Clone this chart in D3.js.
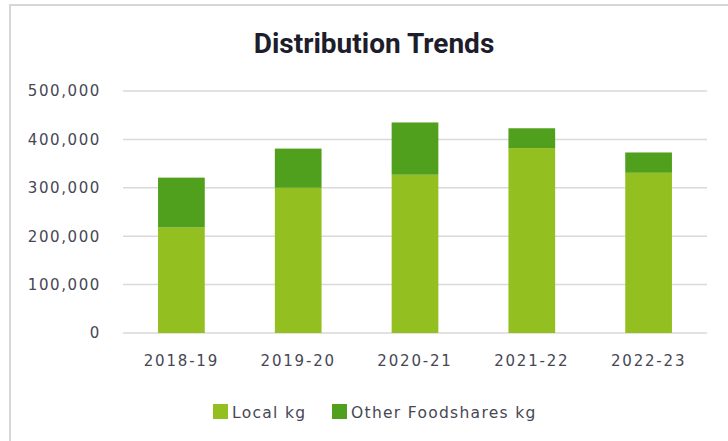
<html>
<head>
<meta charset="utf-8">
<title>Distribution Trends</title>
<script src="https://d3js.org/d3.v7.min.js"></script>
<style>
  body { margin: 0; background: #fff; }
</style>
</head>
<body>
<div id="mychart"></div>
<script>
// data
var years = ["2018-19", "2019-20", "2020-21", "2021-22", "2022-23"];
var localKg = [218000, 300000, 327000, 382000, 331000];
var otherKg = [103000, 81000, 108000, 41000, 42000];
var seriesNames = ["Local kg", "Other Foodshares kg"];
var yTicks = [0, 100000, 200000, 300000, 400000, 500000];

var width = 728, height = 441;
var colors = ["#93c020", "#50a01e"];
var labelColor = "#474754";

var svg = d3.select("#mychart").append("svg")
    .attr("width", width)
    .attr("height", height);

// chart border
svg.append("rect")
    .attr("x", 10).attr("y", 5)
    .attr("width", width).attr("height", height)
    .attr("fill", "#fff")
    .attr("stroke", "#d6d6d6")
    .attr("stroke-width", 2);

svg.append("text")
    .attr("x", 374).attr("y", 53)
    .attr("text-anchor", "middle")
    .style("font-family", "Roboto, sans-serif")
    .style("font-weight", "bold")
    .style("font-size", "28px")
    .style("fill", "#1d1d2b")
    .text("Distribution Trends");

var x = d3.scaleBand()
    .domain(years)
    .range([123, 707])
    .paddingInner(0.6)
    .paddingOuter(0.3);

var y = d3.scaleLinear()
    .domain([0, 500000])
    .range([333, 91]);

// gridlines
svg.append("g")
    .selectAll("line")
    .data(yTicks)
    .enter()
    .append("line")
    .attr("x1", 123).attr("x2", 707)
    .attr("y1", function(d) { return y(d); })
    .attr("y2", function(d) { return y(d); })
    .attr("stroke", "#d9d9d9")
    .attr("stroke-width", 1.5);

// y axis labels
var yAxis = d3.axisLeft(y)
    .tickValues(yTicks)
    .tickFormat(d3.format(","))
    .tickSize(0)
    .tickPadding(0);

var gy = svg.append("g")
    .attr("transform", "translate(101,0)")
    .call(yAxis);
gy.select(".domain").remove();
gy.selectAll("text")
    .style("font-family", "'DejaVu Sans', sans-serif")
    .style("font-size", "15px")
    .style("letter-spacing", "1.6px")
    .style("fill", labelColor);

// x axis labels
var xAxis = d3.axisBottom(x).tickSize(0).tickPadding(0);
var gx = svg.append("g")
    .attr("transform", "translate(0,355)")
    .call(xAxis);
gx.select(".domain").remove();
gx.selectAll("text")
    .attr("dy", "0.71em")
    .style("font-family", "'DejaVu Sans', sans-serif")
    .style("font-size", "15px")
    .style("letter-spacing", "1.8px")
    .style("fill", labelColor);

// stacked bars
var rows = years.map(function(yr, i) {
    return { year: yr, "Local kg": localKg[i], "Other Foodshares kg": otherKg[i] };
});
var stacked = d3.stack().keys(seriesNames)(rows);

svg.append("g")
    .selectAll("g")
    .data(stacked)
    .enter()
    .append("g")
    .attr("fill", function(d, i) { return colors[i]; })
    .selectAll("rect")
    .data(function(d) { return d; })
    .enter()
    .append("rect")
    .attr("x", function(d) { return x(d.data.year); })
    .attr("width", x.bandwidth())
    .attr("y", function(d) { return y(d[1]); })
    .attr("height", function(d) { return y(d[0]) - y(d[1]); });

// legend
var legendX = [213, 332];
var legend = svg.selectAll(".legend")
    .data(seriesNames)
    .enter()
    .append("g")
    .attr("class", "legend")
    .attr("transform", function(d, i) { return "translate(" + legendX[i] + ",404)"; });

legend.append("rect")
    .attr("width", 15).attr("height", 15)
    .attr("fill", function(d, i) { return colors[i]; });

legend.append("text")
    .attr("x", 19).attr("y", 14)
    .style("font-family", "'DejaVu Sans', sans-serif")
    .style("font-size", "15.5px")
    .style("letter-spacing", "1.3px")
    .style("fill", labelColor)
    .text(function(d) { return d; });
</script>
</body>
</html>
